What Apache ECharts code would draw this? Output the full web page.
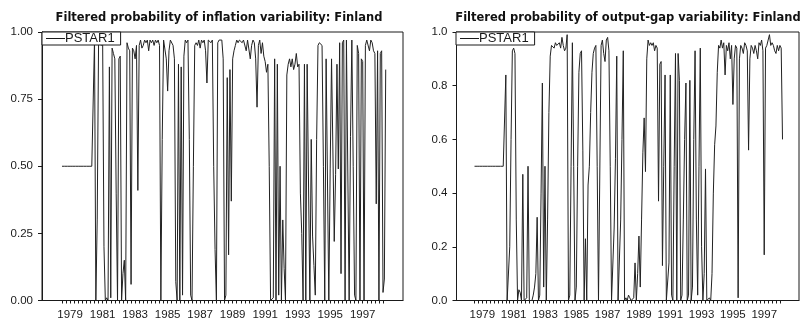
<!DOCTYPE html>
<html lang="en">
<head>
<meta charset="UTF-8">
<title>Filtered probabilities: Finland</title>
<script src="https://cdn.jsdelivr.net/npm/echarts@6.0.0/dist/echarts.min.js"></script>
<style>
    html, body { margin: 0; padding: 0; background: #fff; }
    #chart { width: 804px; height: 323px; }
</style>
</head>
<body>
<div id="chart"></div>
<script>
    // monthly series, both start 1979M01
    const startYear = 1979;
    const yearLabels = [1979, 1981, 1983, 1985, 1987, 1989, 1991, 1993, 1995, 1997];
    const seriesName = 'PSTAR1';

    const inflProb = [
        0.5, 0.5, 0.5, 0.5, 0.5, 0.5, 0.5, 0.5, 0.5, 0.5, 0.5, 0.5,
        0.5, 0.5, 0.5, 0.5, 0.5, 0.5, 0.5, 0.5, 0.5, 0.5, 0.5, 0.5,
        0.97, 0.0, 0.3, 0.96, 0.97, 0.95, 0.97, 0.2, 0.0, 0.01, 0.0, 0.87,
        0.01, 0.94, 0.92, 0.90, 0.4, 0.0, 0.9, 0.91, 0.0, 0.1, 0.15, 0.0,
        0.96, 0.94, 0.93, 0.06, 0.94, 0.93, 0.9, 0.95, 0.41, 0.95, 0.97, 0.94,
        0.95, 0.97, 0.96, 0.97, 0.93, 0.97, 0.96, 0.97, 0.95, 0.97, 0.96, 0.97,
        0.95, 0.0, 0.6, 0.97, 0.97, 0.9, 0.78, 0.93, 0.97, 0.97, 0.95, 0.9,
        0.07, 0.0, 0.88, 0.0, 0.87, 0.02, 0.91, 0.97, 0.96, 0.97, 0.6, 0.02,
        0.0, 0.5, 0.95, 0.96, 0.95, 0.97, 0.94, 0.97, 0.96, 0.97, 0.93, 0.81,
        0.97, 0.97, 0.96, 0.97, 0.5, 0.19, 0.0, 0.96, 0.97, 0.97, 0.97, 0.9,
        0.0, 0.02, 0.83, 0.17, 0.86, 0.37, 0.9, 0.93, 0.95, 0.97, 0.96, 0.97,
        0.97, 0.96, 0.97, 0.97, 0.93, 0.97, 0.97, 0.9, 0.95, 0.97, 0.96, 0.9,
        0.72, 0.95, 0.97, 0.92, 0.96, 0.91, 0.89, 0.85, 0.88, 0.5, 0.0, 0.0,
        0.01, 0.9, 0.0, 0.88, 0.02, 0.5, 0.0, 0.3, 0.12, 0.0, 0.84, 0.88,
        0.9, 0.87, 0.9, 0.86, 0.88, 0.92, 0.87, 0.88, 0.4, 0.25, 0.0, 0.88,
        0.0, 0.88, 0.88, 0.0, 0.6, 0.24, 0.13, 0.02, 0.6, 0.95, 0.96, 0.96,
        0.95, 0.5, 0.0, 0.9, 0.9, 0.0, 0.49, 0.9, 0.9, 0.22, 0.47, 0.88,
        0.49, 0.96, 0.1, 0.96, 0.97, 0.0, 0.97, 0.97, 0.0, 0.61, 0.97, 0.5,
        0.02, 0.0, 0.95, 0.92, 0.0, 0.9, 0.89, 0.0, 0.95, 0.97, 0.97, 0.93,
        0.97, 0.96, 0.93, 0.92, 0.36, 0.93, 0.0, 0.92, 0.93, 0.03, 0.08, 0.86
    ];

    const gapProb = [
        0.5, 0.5, 0.5, 0.5, 0.5, 0.5, 0.5, 0.5, 0.5, 0.5, 0.5, 0.5,
        0.5, 0.5, 0.5, 0.5, 0.5, 0.5, 0.5, 0.5, 0.5, 0.5, 0.5, 0.5,
        0.84, 0.0, 0.0, 0.2, 0.6, 0.93, 0.94, 0.92, 0.3, 0.0, 0.04, 0.03,
        0.0, 0.47, 0.0, 0.0, 0.01, 0.5, 0.0, 0.0, 0.0, 0.02, 0.05, 0.1,
        0.31, 0.0, 0.02, 0.4, 0.81, 0.05, 0.5, 0.0, 0.3, 0.7, 0.91, 0.95,
        0.95, 0.94, 0.96, 0.95, 0.95, 0.96, 0.94, 0.98, 0.95, 0.93, 0.94, 0.99,
        0.0, 0.02, 0.5, 0.96, 0.5, 0.0, 0.05, 0.5, 0.85, 0.92, 0.93, 0.56,
        0.0, 0.23, 0.0, 0.43, 0.5, 0.7, 0.85, 0.92, 0.94, 0.95, 0.5, 0.0,
        0.0, 0.95, 0.97, 0.92, 0.89, 0.97, 0.98, 0.93, 0.5, 0.0, 0.0, 0.27,
        0.53, 0.91, 0.0, 0.0, 0.3, 0.6, 0.93, 0.0, 0.01, 0.0, 0.02, 0.01,
        0.0, 0.0, 0.01, 0.14, 0.0, 0.1, 0.24, 0.05, 0.3, 0.55, 0.68, 0.48,
        0.9, 0.97, 0.95, 0.96, 0.95, 0.96, 0.93, 0.95, 0.94, 0.37, 0.88, 0.89,
        0.13, 0.5, 0.84, 0.0, 0.0, 0.14, 0.84, 0.02, 0.0, 0.5, 0.92, 0.0,
        0.92, 0.82, 0.0, 0.02, 0.3, 0.6, 0.81, 0.0, 0.02, 0.82, 0.0, 0.05,
        0.6, 0.93, 0.3, 0.02, 0.5, 0.94, 0.2, 0.0, 0.1, 0.49, 0.0, 0.0,
        0.01, 0.0, 0.1, 0.4, 0.58, 0.65, 0.85, 0.95, 0.94, 0.97, 0.94, 0.96,
        0.84, 0.95, 0.93, 0.96, 0.9, 0.95, 0.73, 0.9, 0.95, 0.94, 0.01, 0.9,
        0.95, 0.94, 0.92, 0.96, 0.95, 0.93, 0.56, 0.9, 0.95, 0.94, 0.92, 0.95,
        0.93, 0.9, 0.96, 0.95, 0.97, 0.93, 0.17, 0.94, 0.95, 0.97, 0.99, 0.95,
        0.96, 0.95, 0.93, 0.92, 0.95, 0.93, 0.95, 0.94, 0.6
    ];

    const font = "'Liberation Sans', Arial, sans-serif";
    const titleFont = "'DejaVu Sans', sans-serif";
    const ink = '#1a1a1a';

    function toPoints(values) {
        return values.map((v, i) => [startYear + i / 12, v]);
    }

    function quarterTicks(from, to) {
        let ticks = [];
        for (let t = from; t <= to + 1e-9; t += 0.25) ticks.push(t);
        return ticks;
    }

    function makeXAxis(gridIndex, min, max, tickEnd) {
        return {
            type: 'value',
            gridIndex: gridIndex,
            min: min,
            max: max,
            splitLine: { show: false },
            axisLine: { show: true, onZero: false, lineStyle: { color: ink, width: 1 } },
            axisTick: {
                show: true,
                length: 3,
                customValues: quarterTicks(startYear, tickEnd),
                lineStyle: { color: ink, width: 1 }
            },
            axisLabel: {
                customValues: yearLabels.map(y => y + 0.5),
                formatter: v => String(Math.floor(v)),
                margin: 8,
                fontSize: 11.5,
                color: ink,
                fontFamily: font
            }
        };
    }

    function makeYAxis(gridIndex, interval, digits) {
        return {
            type: 'value',
            gridIndex: gridIndex,
            min: 0,
            max: 1,
            interval: interval,
            splitLine: { show: false },
            axisLine: { show: true, lineStyle: { color: ink, width: 1 } },
            axisTick: { show: true, length: 4, lineStyle: { color: ink, width: 1 } },
            axisLabel: {
                formatter: v => v.toFixed(digits),
                margin: 9,
                fontSize: 11.5,
                color: ink,
                fontFamily: font
            }
        };
    }

    function makeLegend(left, top) {
        return {
            left: left,
            top: top,
            orient: 'horizontal',
            data: [seriesName],
            icon: 'rect',
            itemWidth: 19,
            itemHeight: 1,
            padding: [0, 6, 0, 4],
            borderColor: ink,
            borderWidth: 1,
            borderRadius: 0,
            backgroundColor: '#fff',
            selectedMode: false,
            textStyle: { fontSize: 13, color: ink, fontFamily: font, lineHeight: 10.5, padding: [0, 0, 0, -5] }
        };
    }

    let chart = echarts.init(document.getElementById('chart'), null, { renderer: 'canvas' });

    let option = {
        animation: false,
        backgroundColor: '#fff',
        title: [
            {
                text: 'Filtered probability of inflation variability: Finland',
                left: 214,
                top: 7,
                textAlign: 'center',
                textStyle: { fontSize: 11.5, fontWeight: 'bold', color: '#111', fontFamily: titleFont }
            },
            {
                text: 'Filtered probability of output-gap variability: Finland',
                left: 623,
                top: 7,
                textAlign: 'center',
                textStyle: { fontSize: 11.5, fontWeight: 'bold', color: '#111', fontFamily: titleFont }
            }
        ],
        legend: [makeLegend(42, 32), makeLegend(456, 32)],
        grid: [
            { left: 42, top: 32, width: 361, height: 268.5, show: true, borderColor: ink, borderWidth: 1 },
            { left: 456.5, top: 32, width: 342.5, height: 268.5, show: true, borderColor: ink, borderWidth: 1 }
        ],
        xAxis: [
            makeXAxis(0, 1977.77, 1999.98, 1998.75),
            makeXAxis(1, 1977.85, 1999.72, 1998.5)
        ],
        yAxis: [
            makeYAxis(0, 0.25, 2),
            makeYAxis(1, 0.2, 1)
        ],
        series: [
            {
                name: seriesName,
                type: 'line',
                xAxisIndex: 0,
                yAxisIndex: 0,
                data: toPoints(inflProb),
                showSymbol: false,
                symbol: 'none',
                lineStyle: { color: '#222', width: 1 },
                itemStyle: { color: ink }
            },
            {
                name: seriesName,
                type: 'line',
                xAxisIndex: 1,
                yAxisIndex: 1,
                data: toPoints(gapProb),
                showSymbol: false,
                symbol: 'none',
                lineStyle: { color: '#222', width: 1 },
                itemStyle: { color: ink }
            }
        ]
    };

    chart.setOption(option);
</script>
</body>
</html>
